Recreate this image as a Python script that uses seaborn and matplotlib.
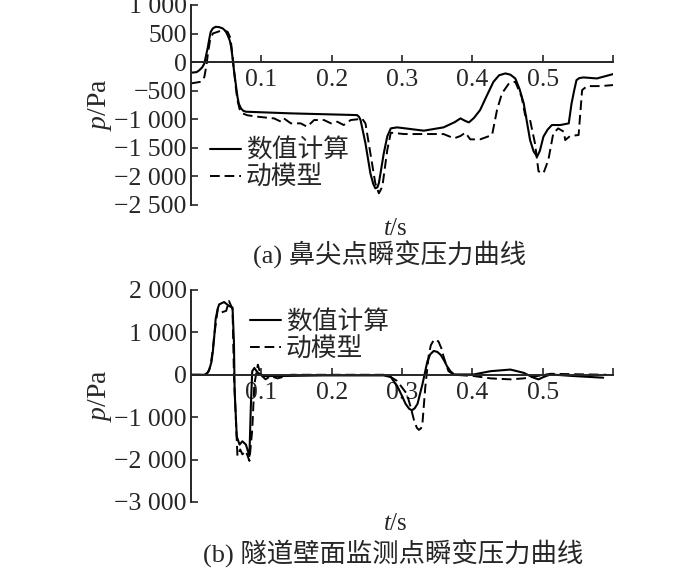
#### Curvas de pressão transitória - ponta do nariz (a) e parede do túnel (b) ####

import numpy as np
import pandas as pd
import matplotlib
matplotlib.use('Agg')
import matplotlib.pyplot as plt
from matplotlib.ticker import FuncFormatter
import seaborn as sns

#### Dados (t em s, p em Pa) ####
# (a) ponto da ponta do nariz - cálculo numérico
t_a_num = [0.0, 0.008, 0.012, 0.016, 0.019, 0.022, 0.024, 0.026, 0.028, 0.031, 0.035, 0.040,
           0.045, 0.049, 0.052, 0.055, 0.057, 0.059, 0.061, 0.064, 0.066, 0.068, 0.071, 0.074,
           0.078, 0.142, 0.236, 0.239, 0.241, 0.248, 0.255, 0.259, 0.262, 0.265, 0.267, 0.270,
           0.274, 0.279, 0.284, 0.293, 0.331, 0.359, 0.375, 0.383, 0.390, 0.395, 0.402, 0.411,
           0.420, 0.430, 0.438, 0.447, 0.454, 0.461, 0.467, 0.473, 0.478, 0.482, 0.487, 0.492,
           0.496, 0.501, 0.507, 0.513, 0.525, 0.537, 0.541, 0.545, 0.548, 0.552, 0.558, 0.577,
           0.600]
p_a_num = [-186, -175, -140, -90, -23, 150, 268, 410, 530, 590, 618, 612,
           590, 545, 472, 380, 268, 80, -140, -420, -606, -730, -810, -850,
           -868, -897, -927, -960, -1014, -1422, -1946, -2130, -2209, -2190, -2121, -1900,
           -1597, -1300, -1160, -1142, -1200, -1142, -1050, -985, -1030, -1055, -980, -839,
           -600, -344, -230, -198, -220, -286, -470, -723, -1080, -1364, -1560, -1655,
           -1550, -1305, -1180, -1101, -1101, -1072, -723, -480, -315, -280, -268, -286,
           -210]

# (a) ponto da ponta do nariz - modelo dinâmico
t_a_mod = [0.0, 0.014, 0.017, 0.019, 0.022, 0.024, 0.027, 0.031, 0.038, 0.045, 0.052, 0.055,
           0.057, 0.059, 0.061, 0.064, 0.066, 0.069, 0.073, 0.080,
           0.095, 0.118, 0.128, 0.132, 0.142, 0.156, 0.165, 0.175, 0.189, 0.199, 0.208, 0.217,
           0.227, 0.236, 0.243, 0.248, 0.255, 0.262, 0.267, 0.272, 0.279, 0.284, 0.303, 0.331,
           0.359, 0.374, 0.383, 0.390, 0.397, 0.411, 0.428, 0.435, 0.442, 0.452, 0.461, 0.470,
           0.475, 0.482, 0.489, 0.494, 0.501, 0.508, 0.515, 0.522, 0.530, 0.532, 0.539, 0.551,
           0.556, 0.563, 0.582, 0.600]
p_a_mod = [-373, -344, -310, -256, -50, 151, 380, 501, 530, 560, 530, 450,
           326, 100, -134, -480, -664, -820, -897, -930,
           -956, -985, -1043, -985, -1072, -1072, -1131, -1014, -1014, -1072, -1043, -1101,
           -1014, -1002, -985, -1072, -1597, -2121, -2296, -2180, -1538, -1235, -1259, -1259,
           -1259, -1334, -1293, -1235, -1352, -1352, -1276, -839, -548, -373, -344, -606,
           -927, -1014, -1422, -1911, -1946, -1713, -1247, -1160, -1218, -1364, -1293, -1276,
           -490, -420, -420, -402]

# (b) ponto de monitoramento na parede do túnel - cálculo numérico
t_b_num = [0.0, 0.019, 0.023, 0.026, 0.029, 0.031, 0.033, 0.035, 0.038, 0.040, 0.047, 0.054,
           0.059, 0.061, 0.062, 0.065, 0.069, 0.073, 0.078, 0.083, 0.085, 0.087, 0.090, 0.095,
           0.104, 0.123, 0.189, 0.274, 0.284, 0.293, 0.300, 0.305, 0.310, 0.314, 0.318, 0.322,
           0.329, 0.336, 0.340, 0.345, 0.350, 0.355, 0.360, 0.364, 0.369, 0.374, 0.402, 0.426,
           0.454, 0.473, 0.487, 0.494, 0.501, 0.511, 0.544, 0.586]
p_b_num = [0, 0, 40, 123, 300, 546, 900, 1315, 1560, 1660, 1715, 1623,
           1585, 777, -377, -1454, -1646, -1569, -1646, -1915, -762, 85, 160, 46,
           -30, -30, -15, -15, -54, -262, -500, -685, -800, -838, -790, -685,
           -223, 315, 480, 562, 540, 469, 330, 200, 80, 8, 8, 85,
           123, 46, -69, -108, -54, 8, -30, -69]

# (b) ponto de monitoramento na parede do túnel - modelo dinâmico
t_b_mod = [0.0, 0.021, 0.025, 0.028, 0.031, 0.033, 0.036, 0.038, 0.043, 0.050, 0.054, 0.059,
           0.061, 0.064, 0.066, 0.070, 0.073, 0.078, 0.083, 0.087, 0.090, 0.095, 0.099, 0.106,
           0.113, 0.123, 0.142, 0.279, 0.293, 0.307, 0.312, 0.317, 0.321, 0.324, 0.327, 0.329,
           0.333, 0.338, 0.341, 0.345, 0.349, 0.352, 0.356, 0.359, 0.366, 0.374, 0.402, 0.426,
           0.454, 0.473, 0.492, 0.511, 0.591]
p_b_mod = [0, 0, 80, 238, 600, 931, 1300, 1546, 1469, 1508, 1738, 1546,
           0, -1146, -1915, -1762, -1877, -1800, -2031, -1300, -223, 238, 0, -108,
           -30, -85, 0, 0, -146, -454, -750, -1069, -1250, -1300, -1260, -1146,
           -300, 469, 700, 815, 830, 777, 620, 431, 85, 0, -30, -85,
           -108, -85, -30, 23, 0]

legenda = ['数值计算', '动模型']
x_ticks = [0.1, 0.2, 0.3, 0.4, 0.5, 0.6]
x_tick_labels = ['0.1', '0.2', '0.3', '0.4', '0.5', '']
y_ticks_a = [1000, 500, 0, -500, -1000, -1500, -2000, -2500]
y_ticks_b = [2000, 1000, 0, -1000, -2000, -3000]
legendas_fig = ['(a) 鼻尖点瞬变压力曲线', '(b) 隧道壁面监测点瞬变压力曲线']

#### Estilo ####
sns.set_style('ticks')
plt.rcParams['font.family'] = ['Liberation Serif', 'Noto Sans CJK SC']
plt.rcParams['mathtext.fontset'] = 'custom'
plt.rcParams['mathtext.it'] = 'Liberation Serif:italic'
plt.rcParams['mathtext.rm'] = 'Liberation Serif'
plt.rcParams['axes.unicode_minus'] = True
TAM = 18.5


def fmt_milhar(v, pos):
    v = int(round(v))
    s = f"{abs(v):,}".replace(',', ' ')
    return ('\u2212' + s) if v < 0 else s


fig = plt.figure(figsize=(7, 5.7), dpi=100)
ax_a = fig.add_axes([0.2729, 0.6404, 0.6029, 0.3509])
ax_b = fig.add_axes([0.2729, 0.1193, 0.6029, 0.372])

paineis = [
    (ax_a, t_a_num, p_a_num, t_a_mod, p_a_mod, y_ticks_a, (-2500, 1000), (0.045, 0.33), -0.065),
    (ax_b, t_b_num, p_b_num, t_b_mod, p_b_mod, y_ticks_b, (-3000, 2000), (0.14, 0.905), -0.05),
]

for ax, tn, pn, tm, pm, yt, ylim, pos_leg, pos_xl in paineis:
    df_num = pd.DataFrame({'t': tn, 'p': pn})
    df_mod = pd.DataFrame({'t': tm, 'p': pm})
    sns.lineplot(data=df_num, x='t', y='p', ax=ax, color='black', lw=1.5,
                 label=legenda[0], estimator=None, sort=False)
    sns.lineplot(data=df_mod, x='t', y='p', ax=ax, color='black', lw=1.4,
                 linestyle=(0, (5, 2.5)), label=legenda[1], estimator=None, sort=False)

    ax.set_xlim(0, 0.6)
    ax.set_ylim(*ylim)
    ax.set_xticks(x_ticks)
    ax.set_xticklabels(x_tick_labels)
    ax.set_yticks(yt)
    ax.yaxis.set_major_formatter(FuncFormatter(fmt_milhar))

    sns.despine(ax=ax)
    ax.spines['bottom'].set_position(('data', 0))
    ax.spines['left'].set_linewidth(1.4)
    ax.spines['bottom'].set_linewidth(1.4)
    ax.tick_params(axis='x', direction='in', length=5, width=1.2, pad=5, labelsize=TAM)
    ax.tick_params(axis='y', direction='in', length=5, width=1.2, pad=3, labelsize=TAM)

    ax.set_ylabel('$p$/Pa', fontsize=20)
    ax.yaxis.set_label_coords(-0.183, 0.5)
    ax.set_xlabel('$t$/s', fontsize=18)
    ax.xaxis.set_label_coords(0.483, pos_xl)

    ax.legend(loc='upper left', bbox_to_anchor=pos_leg, frameon=False, fontsize=TAM,
              handlelength=1.2, handletextpad=0.2, labelspacing=0.12,
              borderpad=0, borderaxespad=0)

fig.text(390 / 700, 1 - 255 / 570, legendas_fig[0], ha='center', va='center', fontsize=19)
fig.text(393 / 700, 1 - 554 / 570, legendas_fig[1], ha='center', va='center', fontsize=19)

plt.savefig('out.png', dpi=100, facecolor='white')
plt.close()
